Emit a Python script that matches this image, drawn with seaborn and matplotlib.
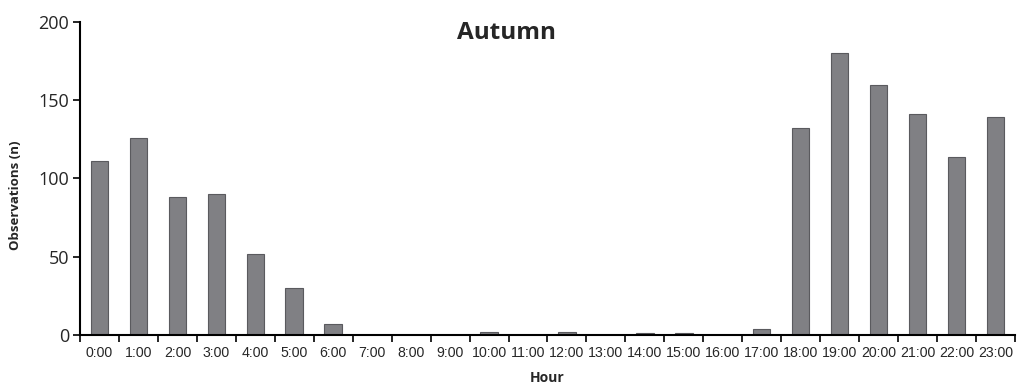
import matplotlib.pyplot as plt
import numpy as np
import pandas as pd
import seaborn as sns
from matplotlib.ticker import FixedLocator

# data
hours = [f'{h}:00' for h in range(24)]
observations = [111, 126, 88, 90, 52, 30, 7, 0, 0, 0, 2, 0,
                2, 0, 1, 1, 0, 4, 132, 180, 160, 141, 114, 139]

df = pd.DataFrame({'Hour': hours, 'Observations': observations})

sns.set_style('white')
plt.rcParams['font.family'] = ['Open Sans', 'DejaVu Sans']

fig = plt.figure(figsize=(10.19, 3.88), dpi=100)
ax = fig.add_axes([0.0785, 0.137, 0.9175, 0.806])

sns.barplot(data=df, x='Hour', y='Observations', ax=ax, color='#808084',
            saturation=1, width=0.45, edgecolor='#5a5a5e', linewidth=0.8)

ax.set_xlim(-0.5, 23.5)
ax.set_ylim(0, 200)
ax.set_yticks([0, 50, 100, 150, 200])

# category boundaries get the tick marks, labels sit in the middle
ax.xaxis.set_minor_locator(FixedLocator(np.arange(-0.5, 24, 1)))
ax.tick_params(axis='x', which='major', bottom=True, length=0, pad=8)
ax.tick_params(axis='x', which='minor', bottom=True, length=5, width=1.2,
               direction='out', color='black')
ax.tick_params(axis='y', left=True, length=5, width=1.2, direction='out',
               color='black', labelsize=13, pad=3)
for lab in ax.get_xticklabels():
    lab.set_family('Liberation Sans')
    lab.set_fontsize(10.2)

sns.despine(ax=ax)
for side in ['left', 'bottom']:
    ax.spines[side].set_color('black')
    ax.spines[side].set_linewidth(1.5)

ax.set_xlabel('Hour', fontsize=10, fontweight='bold', labelpad=8)
ax.set_ylabel('Observations (n)', fontsize=9.5, fontweight='bold')
ax.yaxis.set_label_coords(-0.062, 0.447)
fig.text(0.497, 0.915, 'Autumn', fontsize=17.5, fontweight='bold',
         ha='center', va='center')

plt.savefig('out.png', dpi=100)
